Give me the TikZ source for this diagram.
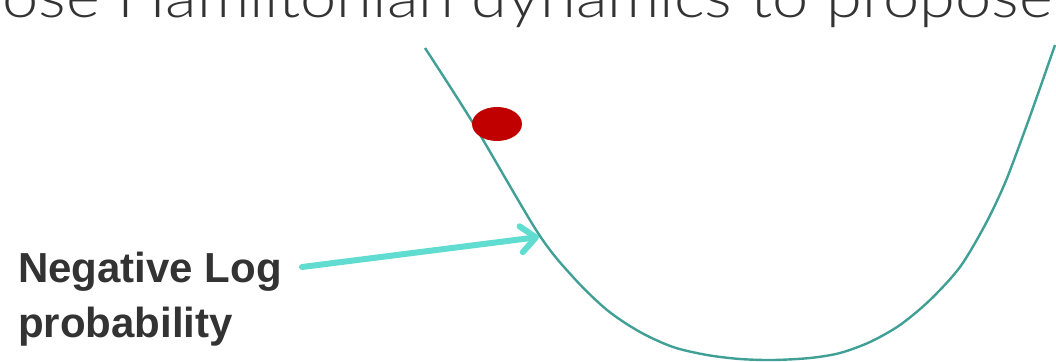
\documentclass[tikz,border=0pt]{standalone}
\usepackage{fontspec}
\setmainfont{Liberation Sans}
\newfontfamily\lightfont{Lato Light}[FakeStretch=1.12]
\usetikzlibrary{arrows.meta,shapes.geometric}
\definecolor{curvec}{RGB}{64,160,150}
\definecolor{arrowc}{RGB}{96,220,208}
\definecolor{dotc}{RGB}{192,0,0}
\definecolor{textc}{RGB}{51,51,51}
\tikzset{
  curveline/.style={draw=curvec, line width=2.4pt},
  pointer/.style={draw=arrowc, line width=6pt, line cap=round,
    -{Straight Barb[length=15pt,width=26pt,line cap=round,line join=round]}},
  labeltext/.style={text=textc, font=\bfseries\fontsize{42}{49}\selectfont, align=left, inner sep=0pt},
  titletext/.style={text=textc, font=\lightfont\fontsize{58}{62}\selectfont, inner sep=0pt}
}
\begin{document}
\begin{tikzpicture}[x=1pt,y=-1pt]
\useasboundingbox (0,0) rectangle (1056,361);
\clip (0,0) rectangle (1056,361);
\node[titletext, anchor=base east] (title) at (1053,18) {ose Hamiltonian dynamics to propose};
\draw[curveline] plot[smooth] coordinates {(425,48) (473,123) (538,233) (573,277) (607,310) (640,332) (673,347) (707,355) (740,359) (773,360) (810,358) (840,353) (870,342) (900,325) (930,300) (960,267) (985,225) (1005,183) (1025,130) (1040,88) (1055,45)};
\node[fill=dotc, ellipse, minimum width=50pt, minimum height=34pt, inner sep=0pt] (dot) at (497,124) {};
\node[labeltext, anchor=base west] (label) at (18,337) {Negative Log\\[6pt]probability};
\coordinate (start) at (302,267);
\coordinate (tip) at (539,237);
\draw[pointer] (start) -- (tip);
\end{tikzpicture}
\end{document}
